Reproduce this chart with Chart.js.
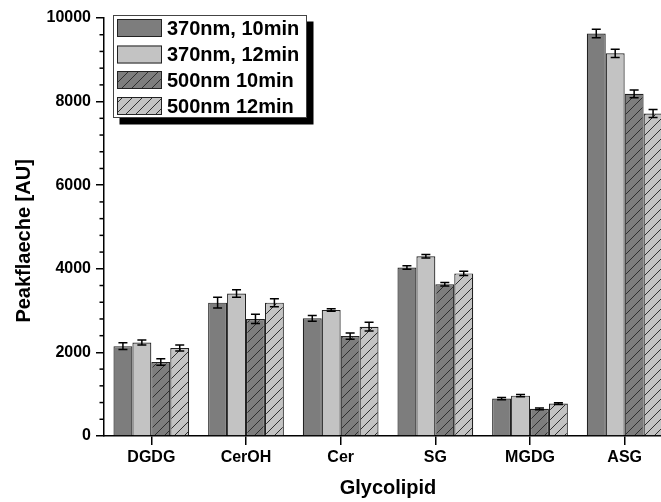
<!DOCTYPE html>
<html>
<head>
<meta charset="utf-8">
<script src="https://cdn.jsdelivr.net/npm/chart.js@4/dist/chart.umd.min.js"></script>
<style>
  html, body { margin: 0; padding: 0; background: #fff; overflow: hidden; }
  #wrap { width: 700px; height: 502px; position: relative; }
</style>
</head>
<body>
<div id="wrap"><canvas id="c" width="700" height="502"></canvas></div>
<script>
// Glycolipid peak areas for two excitation wavelengths and two run times
const categories = ['DGDG', 'CerOH', 'Cer', 'SG', 'MGDG', 'ASG'];
const seriesLabels = ['370nm, 10min', '370nm, 12min', '500nm 10min', '500nm 12min'];

const peak370_10 = [2150, 3190, 2815, 4030, 895, 9630];
const peak370_12 = [2235, 3410, 3015, 4300, 965, 9155];
const peak500_10 = [1770, 2800, 2390, 3630, 650, 8185];
const peak500_12 = [2105, 3190, 2615, 3890, 775, 7715];

const err370_10 = [80, 130, 70, 40, 25, 100];
const err370_12 = [60, 90, 30, 40, 25, 100];
const err500_10 = [80, 110, 75, 40, 20, 95];
const err500_12 = [70, 95, 105, 50, 20, 95];

const yTicks = [0, 2000, 4000, 6000, 8000, 10000];
const yMinorStep = 400;

const FONT = "'Liberation Sans', Arial, Helvetica, sans-serif";
const DARK = '#7d7d7d';
const LIGHT = '#c3c3c3';

const canvas = document.getElementById('c');
const mainCtx = canvas.getContext('2d');

// diagonal "/" hatch over a flat grey
function hatch(base) {
  const s = 10;
  const t = document.createElement('canvas');
  t.width = s; t.height = s;
  const g = t.getContext('2d');
  g.fillStyle = base;
  g.fillRect(0, 0, s, s);
  g.strokeStyle = '#2e2e2e';
  g.lineWidth = 1;
  g.beginPath();
  g.moveTo(-1, s + 1); g.lineTo(s + 1, -1);
  g.moveTo(-s / 2 - 1, s / 2 + 1); g.lineTo(s / 2 + 1, -s / 2 - 1);
  g.moveTo(s / 2 - 1, s * 1.5 + 1); g.lineTo(s * 1.5 + 1, s / 2 - 1);
  g.stroke();
  return mainCtx.createPattern(t, 'repeat');
}

const fills = [DARK, LIGHT, hatch(DARK), hatch(LIGHT)];
const values = [peak370_10, peak370_12, peak500_10, peak500_12];
const errors = [err370_10, err370_12, err500_10, err500_12];

const datasets = seriesLabels.map((label, i) => ({
  label,
  data: values[i],
  errors: errors[i],
  backgroundColor: fills[i],
  borderColor: '#222',
  borderWidth: 1.2,
  barPercentage: 1.0,
  categoryPercentage: 0.8
}));

// error bars, minor y ticks and the framed legend with drop shadow
const extras = {
  id: 'extras',
  afterDatasetsDraw(chart) {
    const ctx = chart.ctx;
    const y = chart.scales.y;
    ctx.save();
    ctx.strokeStyle = '#000';
    ctx.lineWidth = 1.5;
    chart.data.datasets.forEach((ds, i) => {
      const meta = chart.getDatasetMeta(i);
      meta.data.forEach((bar, j) => {
        const v = ds.data[j], e = ds.errors[j];
        const top = y.getPixelForValue(v + e);
        const bot = y.getPixelForValue(v - e);
        const x = bar.x, hw = 4.5;
        ctx.beginPath();
        ctx.moveTo(x, top); ctx.lineTo(x, bot);
        ctx.moveTo(x - hw, top); ctx.lineTo(x + hw, top);
        ctx.moveTo(x - hw, bot); ctx.lineTo(x + hw, bot);
        ctx.stroke();
      });
    });
    ctx.restore();
  },
  afterDraw(chart) {
    const ctx = chart.ctx;
    const y = chart.scales.y;
    const left = chart.chartArea.left;
    ctx.save();
    // minor ticks
    ctx.strokeStyle = '#000';
    ctx.lineWidth = 1.5;
    for (let v = yMinorStep; v < y.max; v += yMinorStep) {
      if (yTicks.includes(v)) continue;
      const py = y.getPixelForValue(v);
      ctx.beginPath();
      ctx.moveTo(left - 4.5, py); ctx.lineTo(left, py);
      ctx.stroke();
    }
    // legend
    const bx = 113, by = 15, bw = 194, bh = 103, sh = 6.5;
    ctx.fillStyle = '#000';
    ctx.fillRect(bx + sh, by + sh, bw, bh);
    ctx.fillStyle = '#fff';
    ctx.fillRect(bx, by, bw, bh);
    ctx.strokeStyle = '#444';
    ctx.lineWidth = 1;
    ctx.strokeRect(bx + 0.5, by + 0.5, bw - 1, bh - 1);
    const rowTops = [19, 45.5, 71, 97];
    ctx.font = 'bold 20px ' + FONT;
    ctx.textBaseline = 'middle';
    ctx.textAlign = 'left';
    chart.data.datasets.forEach((ds, i) => {
      const ty = rowTops[i];
      ctx.fillStyle = ds.backgroundColor;
      ctx.fillRect(117, ty, 45, 18);
      ctx.strokeStyle = '#222';
      ctx.lineWidth = 1;
      ctx.strokeRect(117.5, ty + 0.5, 44, 17);
      ctx.fillStyle = '#000';
      ctx.fillText(ds.label, 167, ty + 10);
    });
    ctx.restore();
  }
};

new Chart(canvas, {
  type: 'bar',
  data: { labels: categories, datasets },
  plugins: [extras],
  options: {
    responsive: false,
    devicePixelRatio: 1,
    animation: false,
    layout: { padding: { left: 0, right: 28, top: 18, bottom: 0 } },
    plugins: { legend: { display: false }, tooltip: { enabled: false } },
    scales: {
      x: {
        offset: true,
        grid: { offset: false, drawOnChartArea: false, drawTicks: true, tickLength: 9, color: '#000', lineWidth: 1.5 },
        border: { color: '#000', width: 1.5 },
        ticks: { color: '#000', font: { family: FONT, size: 16, weight: 'bold' }, padding: 3, maxRotation: 0, autoSkip: false },
        title: { display: true, text: 'Glycolipid', color: '#000', font: { family: FONT, size: 20, weight: 'bold' }, padding: { top: 0, bottom: 2 } },
        afterFit(s) { s.height = 66; }
      },
      y: {
        min: 0,
        max: 10000,
        afterBuildTicks(s) { s.ticks = yTicks.map(v => ({ value: v })); },
        grid: { drawOnChartArea: false, drawTicks: true, tickLength: 8, color: '#000', lineWidth: 1.5 },
        border: { color: '#000', width: 1.5 },
        ticks: { color: '#000', font: { family: FONT, size: 16, weight: 'bold' }, padding: 5, callback: v => String(v) },
        title: { display: true, text: 'Peakflaeche [AU]     ', color: '#000', font: { family: FONT, size: 20, weight: 'bold' }, padding: { top: 12, bottom: 0 } },
        afterFit(s) { s.width = 104; }
      }
    }
  }
});
</script>
</body>
</html>
